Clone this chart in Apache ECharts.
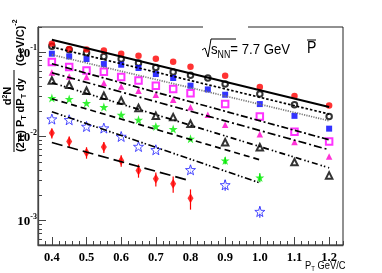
<!DOCTYPE html>
<html><head><meta charset="utf-8">
<script src="https://cdn.jsdelivr.net/npm/echarts@6/dist/echarts.min.js"></script>
<style>html,body{margin:0;padding:0;background:#fff}#c{width:382px;height:273px}</style>
</head><body><div id="c"></div>
<script>
// ---- data (pT in GeV/c, yields) ----
const ptRedCircle = [0.40,0.45,0.50,0.55,0.60,0.65,0.70,0.75,0.80,0.90,1.00,1.10,1.20];
const redCircle   = [0.127,0.110,0.108,0.105,0.0965,0.0913,0.0841,0.0775,0.0676,0.0528,0.0388,0.0303,0.0234];
const ptOpenCircle = [0.40,0.45,0.50,0.55,0.60,0.65,0.70,0.75,0.80,0.85,0.90,1.00,1.10,1.20];
const openCircle  = [0.1185,0.1076,0.0992,0.0896,0.0834,0.0748,0.0663,0.0584,0.0535,0.0496,0.0421,0.0320,0.0238,0.0173];
const ptBlueSquare = [0.40,0.45,0.50,0.55,0.60,0.65,0.70,0.75,0.80,0.85,0.90,1.00,1.10,1.20];
const blueSquare  = [0.0965,0.0896,0.0834,0.0727,0.0714,0.0652,0.0553,0.0496,0.0402,0.0363,0.0314,0.0243,0.0176,0.0124];
const ptPinkSquare = [0.40,0.45,0.50,0.55,0.60,0.65,0.70,0.75,0.80,0.90,1.00,1.10,1.20];
const pinkSquare  = [0.0769,0.0670,0.0610,0.0589,0.0510,0.0464,0.0402,0.0367,0.0327,0.0243,0.0173,0.0114,0.00872];
const ptMagentaTri = [0.40,0.45,0.50,0.55,0.60,0.65,0.70,0.75,0.80,0.85,0.90,1.00,1.10,1.20];
const magentaTri  = [0.0578,0.0518,0.0510,0.0432,0.0394,0.0350,0.0314,0.0274,0.0223,0.0181,0.0138,0.01062,0.00858,0.00578];
const ptOpenTri = [0.40,0.45,0.50,0.55,0.60,0.65,0.70,0.75,0.80,0.90,1.00,1.10,1.20];
const openTri     = [0.0464,0.0413,0.0350,0.0305,0.0268,0.0218,0.0176,0.0170,0.01416,0.00853,0.00744,0.00496,0.00345];
const ptGreenStar = [0.40,0.45,0.50,0.55,0.60,0.65,0.70,0.75,0.80,0.90,1.00];
const greenStar   = [0.0286,0.0279,0.0250,0.0224,0.0181,0.0158,0.01315,0.01225,0.00939,0.00518,0.00325];
const greenStarErr = [0,0,0,0,0,0,0,0,0,0.0005,0.0004];
const ptBlueStar = [0.40,0.45,0.50,0.55,0.60,0.65,0.70,0.80,0.90,1.00];
const blueStar    = [0.0161,0.0158,0.01315,0.01259,0.0100,0.0076,0.00695,0.00402,0.00266,0.00128];
const blueStarErr = [0,0,0,0,0,0,0,0.0004,0.0004,0.0002];
const ptRedDiamond = [0.40,0.45,0.50,0.55,0.60,0.65,0.70,0.75,0.80];
const redDiamond  = [0.01098,0.00872,0.00645,0.00748,0.00518,0.00394,0.00314,0.00274,0.00185];
const redDiamondErr = [0.0015,0.0013,0.0010,0.0011,0.0008,0.0007,0.0006,0.0006,0.0005];
// fit lines: start at pT=0.4, end at fitEndPt
const fitStartPt = [0.4,0.4,0.4,0.4,0.4,0.4,0.4,0.4,0.4];
const fitStart   = [0.1416,0.1160,0.0939,0.0734,0.0573,0.0436,0.0281,0.01968,0.00848];
const fitEndPt   = [1.2,1.2,1.2,1.2,1.2,1.2,1.0,1.0,0.8];
const fitEnd     = [0.0224,0.01848,0.01538,0.00914,0.00695,0.00424,0.00528,0.00281,0.00297];
// axis ticks
const xMajorTicks = [0.4,0.5,0.6,0.7,0.8,0.9,1.0,1.1,1.2];
const xTickLabels = ['0.4','0.5','0.6','0.7','0.8','0.9','1.0','1.1','1.2'];
const yDecades = [-3,-2,-1];

const L = Math.log10;
const toPts = (xs, ys) => xs.map((x, i) => [x, L(ys[i])]);

const xMinor = [];
for (let k = 18; k <= 62; k++) xMinor.push(k * 0.02);
const yMinor = [];
for (let d = -4; d <= -1; d++) for (let m = 2; m <= 9; m++) yMinor.push(d + L(m));

const YMIN = -3.29, YMAX = -0.698, XMIN = 0.36, XMAX = 1.24;

const STAR = 'path://M0,-10L2.35,-3.24L9.51,-3.09L3.8,1.24L5.88,8.09L0,4L-5.88,8.09L-3.8,1.24L-9.51,-3.09L-2.35,-3.24Z';

function scatter(xs, ys, symbol, size, style, z) {
  return { type: 'scatter', data: toPts(xs, ys), symbol: symbol, symbolSize: size,
    itemStyle: style, z: z || 3, silent: true };
}
function errBars(xs, ys, errs, color) {
  const d = [];
  xs.forEach((x, i) => { if (errs[i] > 0) d.push([x, L(ys[i] - errs[i]), L(ys[i] + errs[i])]); });
  return { type: 'custom', z: 2, silent: true, data: d,
    renderItem: (p, api) => {
      const a = api.coord([api.value(0), api.value(1)]);
      const b = api.coord([api.value(0), api.value(2)]);
      return { type: 'line', shape: { x1: a[0], y1: a[1], x2: b[0], y2: b[1] },
        style: { stroke: color, lineWidth: 1.2 } };
    } };
}
const dashes = ['solid', [2.5, 2], [1.2, 1.2], [7, 2.5, 2, 2.5], [8, 3, 2, 3], [6, 3, 1.5, 2, 1.5, 3], [6, 4], [7, 2.5, 1.5, 2, 1.5, 2.5], [11, 5]];
const fitColors = ['#000', '#000', '#777', '#000', '#000', '#000', '#000', '#000', '#000'];
const fitSeries = fitStart.map((v, i) => ({
  type: 'line', silent: true, symbol: 'none', z: 4,
  data: [[fitStartPt[i], L(v)], [fitEndPt[i], L(fitEnd[i])]],
  lineStyle: { color: fitColors[i], width: i === 0 ? 2 : 1.7, type: dashes[i] }
}));

const SANS = 'Liberation Sans';
const chart = echarts.init(document.getElementById('c'), null, { renderer: 'canvas' });
const option = {
  animation: false,
  backgroundColor: '#fff',
  grid: { left: 38, right: 39, top: 27, bottom: 28, show: true, borderColor: '#222', borderWidth: 1, backgroundColor: 'transparent' },
  xAxis: [{
    type: 'value', min: XMIN, max: XMAX,
    axisLine: { show: true, onZero: false, lineStyle: { color: '#444', width: 1.3 } },
    axisTick: { show: true, inside: true, length: 8, customValues: xMajorTicks, lineStyle: { color: '#444', width: 1 } },
    axisLabel: { show: true, customValues: xMajorTicks, margin: 6,
      formatter: v => xTickLabels[xMajorTicks.findIndex(t => Math.abs(t - v) < 1e-6)] || '',
      fontFamily: 'Liberation Serif', fontWeight: 'bold', fontSize: 12.5, color: '#000' },
    splitLine: { show: false }
  }, {
    type: 'value', min: XMIN, max: XMAX, position: 'bottom',
    axisLine: { show: false },
    axisTick: { show: true, inside: true, length: 4, customValues: xMinor, lineStyle: { color: '#444', width: 1 } },
    axisLabel: { show: false }, splitLine: { show: false }
  }],
  yAxis: [{
    type: 'value', min: YMIN, max: YMAX,
    axisLine: { show: true, onZero: false, lineStyle: { color: '#444', width: 1.3 } },
    axisTick: { show: true, inside: true, length: 8, customValues: yDecades, lineStyle: { color: '#444', width: 1 } },
    axisLabel: { show: true, customValues: yDecades, margin: 1,
      formatter: v => '{b|10}{s|' + Math.round(v) + '}',
      rich: {
        b: { fontFamily: 'Liberation Serif', fontWeight: 'bold', fontSize: 13, color: '#000', lineHeight: 16, verticalAlign: 'bottom' },
        s: { fontFamily: 'Liberation Serif', fontWeight: 'bold', fontSize: 8, color: '#000', lineHeight: 8, verticalAlign: 'top' }
      } },
    splitLine: { show: false }
  }, {
    type: 'value', min: YMIN, max: YMAX, position: 'left',
    axisLine: { show: false },
    axisTick: { show: true, inside: true, length: 4, customValues: yMinor, lineStyle: { color: '#444', width: 1 } },
    axisLabel: { show: false }, splitLine: { show: false }
  }],
  series: [
    errBars(ptRedDiamond, redDiamond, redDiamondErr, '#ff0000'),
    errBars(ptBlueStar, blueStar, blueStarErr, '#3333ff'),
    errBars(ptGreenStar, greenStar, greenStarErr, '#00cc00'),
    scatter(ptOpenCircle, openCircle, 'emptyCircle', 5.5, { color: '#000', borderWidth: 1 }),
    scatter(ptRedCircle, redCircle, 'circle', 6.5, { color: '#ff0000' }),
    scatter(ptBlueSquare, blueSquare, 'rect', 6, { color: '#0000ff' }),
    scatter(ptPinkSquare, pinkSquare, 'emptyRect', 6.5, { color: '#ff00ff', borderWidth: 1 }),
    scatter(ptMagentaTri, magentaTri, 'triangle', 6.5, { color: '#ff00cc' }),
    scatter(ptOpenTri, openTri, 'emptyTriangle', 6.5, { color: '#000', borderWidth: 0.8 }),
    scatter(ptGreenStar, greenStar, STAR, 9, { color: '#00ee00' }),
    scatter(ptBlueStar, blueStar, STAR, 10, { color: '#ffffff', borderColor: '#2222ff', borderWidth: 1 }),
    scatter(ptRedDiamond, redDiamond, 'diamond', [6, 10], { color: '#ff0000' })
  ].concat(fitSeries),
  graphic: [
    { type: 'rect', z: 100, shape: { x: 203, y: 22, width: 45, height: 10 }, style: { fill: '#fff' } },
    // sqrt(s_NN) = 7.7 GeV
    { type: 'polyline', z: 101, shape: { points: [[202, 50], [205, 48], [208, 57], [211, 39], [236, 39]] }, style: { stroke: '#000', lineWidth: 1, fill: null } },
    { type: 'text', z: 101, x: 211, y: 57, scaleX: 0.88, style: { text: '{a|s}{n|NN}{a|= 7.7 GeV}', textVerticalAlign: 'bottom',
      rich: { a: { fontFamily: SANS, fontSize: 15, fill: '#000', verticalAlign: 'bottom' },
              n: { fontFamily: SANS, fontSize: 10, fill: '#000', verticalAlign: 'bottom', padding: [0, 0, -3, 0] } } } },
    { type: 'text', z: 101, x: 307, y: 57, scaleX: 0.88, style: { text: 'P', textVerticalAlign: 'bottom', fontFamily: SANS, fontSize: 16, fill: '#000' } },
    { type: 'line', z: 101, shape: { x1: 307, y1: 40, x2: 316, y2: 40 }, style: { stroke: '#000', lineWidth: 1 } },
    // x axis title
    { type: 'text', z: 101, x: 305, y: 271, scaleX: 0.85, style: { text: '{p|P}{t|T}{g| GeV/C}', textVerticalAlign: 'bottom',
      rich: { p: { fontFamily: SANS, fontSize: 11, fill: '#000', verticalAlign: 'bottom' },
              t: { fontFamily: SANS, fontSize: 7, fill: '#000', verticalAlign: 'bottom', padding: [0, 0, -2, 0] },
              g: { fontFamily: SANS, fontSize: 11, fill: '#000', verticalAlign: 'bottom' } } } },
    // y axis title (rotated)
    { type: 'group', x: 14, y: 152, rotation: Math.PI / 2, z: 101, children: [
      { type: 'line', shape: { x1: 0, y1: 0, x2: 82, y2: 0 }, style: { stroke: '#000', lineWidth: 1 } },
      { type: 'text', x: 56, y: -1, style: { text: '{d|d}{s|2}{d|N}', textAlign: 'center', textVerticalAlign: 'bottom',
        rich: { d: { fontFamily: SANS, fontWeight: 'bold', fontSize: 11, fill: '#000', verticalAlign: 'bottom' },
                s: { fontFamily: SANS, fontWeight: 'bold', fontSize: 7, fill: '#000', verticalAlign: 'top' } } } },
      { type: 'text', x: 0, y: 1, style: { text: '{d|(2\u03c0) P}{t|T}{d| dP}{t|T}{d| dy}', textAlign: 'left', textVerticalAlign: 'top',
        rich: { d: { fontFamily: SANS, fontWeight: 'bold', fontSize: 11, fill: '#000', verticalAlign: 'top', lineHeight: 13 },
                t: { fontFamily: SANS, fontWeight: 'bold', fontSize: 7, fill: '#000', verticalAlign: 'bottom', lineHeight: 13 } } } },
      { type: 'text', x: 86, y: 5, style: { text: '{d|(GeV/C)}{s|-2}', textAlign: 'left', textVerticalAlign: 'middle',
        rich: { d: { fontFamily: SANS, fontWeight: 'bold', fontSize: 11, fill: '#000', verticalAlign: 'bottom', lineHeight: 14 },
                s: { fontFamily: SANS, fontWeight: 'bold', fontSize: 7, fill: '#000', verticalAlign: 'top', lineHeight: 14 } } } }
    ] }
  ]
};
chart.setOption(option);
</script></body></html>
